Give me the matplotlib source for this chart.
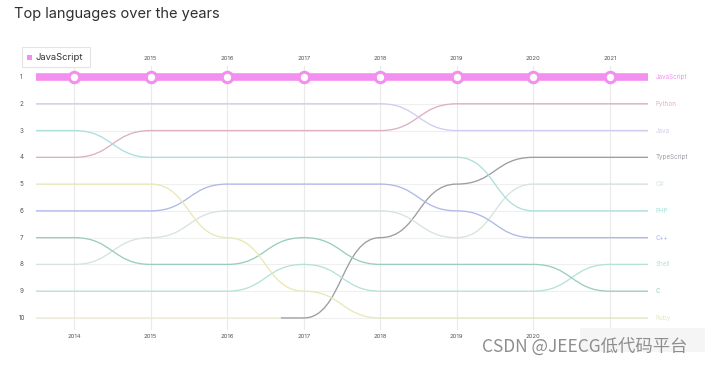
import matplotlib
matplotlib.use("Agg")
import matplotlib.pyplot as plt
from matplotlib.path import Path
from matplotlib.patches import PathPatch, Rectangle

plt.rcParams["font.family"] = ["Inter", "DejaVu Sans"]

years = [2014, 2015, 2016, 2017, 2018, 2019, 2020, 2021]
top_year_labels = [2015, 2016, 2017, 2018, 2019, 2020, 2021]
bottom_year_labels = [2014, 2015, 2016, 2017, 2018, 2019, 2020]
rank_labels = [1, 2, 3, 4, 5, 6, 7, 8, 9, 10]

js_ranks = [1, 1, 1, 1, 1, 1, 1, 1]
python_ranks = [4, 3, 3, 3, 3, 2, 2, 2]
java_ranks = [2, 2, 2, 2, 2, 3, 3, 3]
ts_years = [2017, 2018, 2019, 2020, 2021]
ts_ranks = [10, 7, 5, 4, 4]
csharp_ranks = [8, 7, 6, 6, 6, 7, 5, 5]
php_ranks = [3, 4, 4, 4, 4, 4, 6, 6]
cpp_ranks = [6, 6, 5, 5, 5, 6, 7, 7]
shell_ranks = [9, 9, 9, 8, 9, 9, 9, 8]
c_ranks = [7, 8, 8, 7, 8, 8, 8, 9]
ruby_ranks = [5, 5, 7, 9, 10, 10, 10, 10]
objc_years = [2014, 2015, 2016]
objc_ranks = [10, 10, 10]


def bump_path(xs, ys, lead=0.5, tail=0.5):
    verts = [(xs[0] - lead, ys[0]), (xs[0], ys[0])]
    codes = [Path.MOVETO, Path.LINETO]
    for i in range(1, len(xs)):
        x0, y0 = xs[i - 1], ys[i - 1]
        x1, y1 = xs[i], ys[i]
        dx = (x1 - x0) * 0.5
        verts += [(x0 + dx, y0), (x1 - dx, y1), (x1, y1)]
        codes += [Path.CURVE4] * 3
    verts.append((xs[-1] + tail, ys[-1]))
    codes.append(Path.LINETO)
    return Path(verts, codes)


fig = plt.figure(figsize=(7.2, 3.65), dpi=100)
ax = fig.add_axes([36 / 720, 1 - 330 / 365, 612 / 720, 263.7 / 365])
ax.set_xlim(2013.5, 2021.5)
ax.set_ylim(10.45, 0.6)
ax.axis("off")

for r in rank_labels:
    ax.plot([2013.5, 2021.5], [r, r], color="#efefef", lw=0.8, zorder=1)
    ax.text(2013.31, r, str(r), ha="center", va="center", fontsize=4.5,
            color="#555555", clip_on=False)
for y in years:
    ax.plot([y, y], [0.6, 10.45], color="#eaeaea", lw=0.8, zorder=1)
for y in top_year_labels:
    ax.text(y, 0.3, str(y), ha="center", va="center", fontsize=4.3,
            color="#555555", clip_on=False)
for y in bottom_year_labels:
    ax.text(y, 10.68, str(y), ha="center", va="center", fontsize=4.3,
            color="#555555", clip_on=False)

series = [
    ("Python", years, python_ranks, "#dcb0c2", 0.5, 0.5),
    ("Java", years, java_ranks, "#cfcdf0", 0.5, 0.5),
    ("TypeScript", ts_years, ts_ranks, "#9c9ca4", 0.3, 0.5),
    ("C#", years, csharp_ranks, "#d6e4dc", 0.5, 0.5),
    ("PHP", years, php_ranks, "#addfde", 0.5, 0.5),
    ("C++", years, cpp_ranks, "#aeb9e8", 0.5, 0.5),
    ("Shell", years, shell_ranks, "#b6e2d6", 0.5, 0.5),
    ("C", years, c_ranks, "#9bccc1", 0.5, 0.5),
    ("Ruby", years, ruby_ranks, "#e8e8b8", 0.5, 0.5),
    ("Objective-C", objc_years, objc_ranks, "#efebd2", 0.5, 0.7),
]

for name, xs, ys, color, lead, tail in series:
    ax.add_patch(PathPatch(bump_path(xs, ys, lead, tail), facecolor="none",
                           edgecolor=color, lw=0.95, zorder=2))
    if xs[-1] == years[-1]:
        ax.text(2021.6, ys[-1], name, ha="left", va="center", fontsize=4.5,
                color=color, clip_on=False)

js_color = "#f390ef"
ax.add_patch(PathPatch(bump_path(years, js_ranks), facecolor="none",
                       edgecolor=js_color, lw=5.5, capstyle="round", zorder=3))
ax.plot(years, js_ranks, "o", ms=7.5, mfc="white", mec=js_color, mew=2.2,
        zorder=4)
ax.text(2021.6, js_ranks[-1], "JavaScript", ha="left", va="center",
        fontsize=4.5, color=js_color, clip_on=False)

fig.text(14 / 720, 1 - 14 / 365, "Top languages over the years",
         ha="left", va="center", fontsize=10.5, color="#2f2f2f")

fig.patches.append(Rectangle((22 / 720, 1 - 67 / 365), 68 / 720, 20 / 365,
                             transform=fig.transFigure, facecolor="white",
                             edgecolor="#e4e4e4", lw=0.8, zorder=5))
fig.patches.append(Rectangle((27 / 720, 1 - 60 / 365), 5 / 720, 5 / 365,
                             transform=fig.transFigure, facecolor=js_color,
                             edgecolor="none", zorder=6))
fig.text(36 / 720, 1 - 57 / 365, "JavaScript", ha="left", va="center",
         fontsize=6.8, color="#333333", zorder=7)

fig.patches.append(Rectangle((580 / 720, 1 - 352 / 365), 125 / 720, 24 / 365,
                             transform=fig.transFigure, facecolor="#f5f5f5",
                             edgecolor="none", zorder=5))
fig.text(482 / 720, 1 - 347 / 365, "CSDN @JEECG低代码平台", ha="left",
         va="center", fontsize=12.5, color="#8e8e8e", zorder=7,
         family=["Noto Sans CJK SC", "DejaVu Sans"])

fig.savefig("out.png", dpi=100)
